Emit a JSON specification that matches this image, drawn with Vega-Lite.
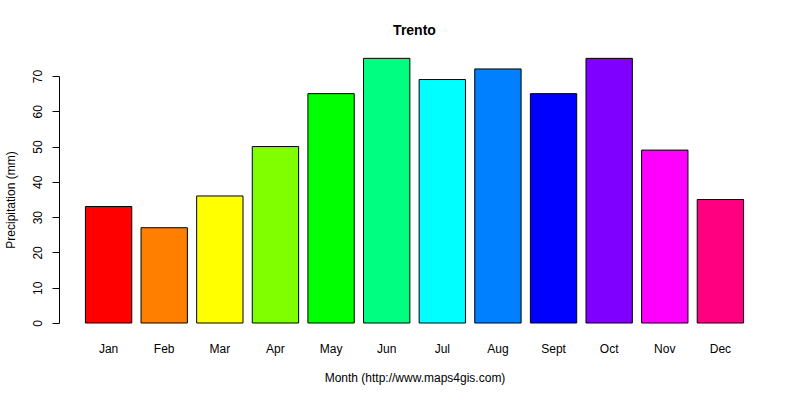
{
  "$schema": "https://vega.github.io/schema/vega-lite/v6.json",
  "width": 711,
  "height": 247,
  "autosize": "none",
  "padding": {"left": 59, "top": 76, "right": 30, "bottom": 77},
  "background": "white",
  "title": {"text": "Trento", "font": "Liberation Sans", "fontSize": 14, "fontWeight": "bold", "color": "black", "anchor": "middle", "offset": 20},
  "data": {"values": [
    {"month": "Jan", "value": 33, "color": "#FF0000"},
    {"month": "Feb", "value": 27, "color": "#FF8000"},
    {"month": "Mar", "value": 36, "color": "#FFFF00"},
    {"month": "Apr", "value": 50, "color": "#80FF00"},
    {"month": "May", "value": 65, "color": "#00FF00"},
    {"month": "Jun", "value": 75, "color": "#00FF80"},
    {"month": "Jul", "value": 69, "color": "#00FFFF"},
    {"month": "Aug", "value": 72, "color": "#0080FF"},
    {"month": "Sept", "value": 65, "color": "#0000FF"},
    {"month": "Oct", "value": 75, "color": "#8000FF"},
    {"month": "Nov", "value": 49, "color": "#FF00FF"},
    {"month": "Dec", "value": 35, "color": "#FF0080"}
  ]},
  "mark": {"type": "bar", "stroke": "black", "strokeWidth": 1, "clip": false},
  "encoding": {
    "x": {
      "field": "month", "type": "nominal", "sort": null,
      "scale": {"paddingInner": 0.1667, "paddingOuter": 0.475},
      "axis": {"title": "Month (http://www.maps4gis.com)", "labelAngle": 0, "domain": false, "ticks": false, "labelPadding": 20, "labelFont": "Liberation Sans", "labelFontSize": 12, "labelColor": "black", "titleFont": "Liberation Sans", "titleFontSize": 12, "titleFontWeight": "normal", "titleColor": "black", "titlePadding": 18, "grid": false}
    },
    "y": {
      "field": "value", "type": "quantitative",
      "scale": {"domain": [0, 70], "nice": false, "zero": true},
      "axis": {"title": "Precipitation (mm)", "values": [0, 10, 20, 30, 40, 50, 60, 70], "grid": false, "domainColor": "black", "tickColor": "black", "tickSize": 7, "labelAngle": 270, "labelAlign": "center", "labelBaseline": "bottom", "labelPadding": 8, "labelFont": "Liberation Sans", "labelFontSize": 12, "labelColor": "black", "titleFont": "Liberation Sans", "titleFontSize": 12, "titleFontWeight": "normal", "titleColor": "black", "titlePadding": 14}
    },
    "color": {"field": "color", "type": "nominal", "scale": null, "legend": null}
  },
  "config": {"view": {"stroke": null}}
}
